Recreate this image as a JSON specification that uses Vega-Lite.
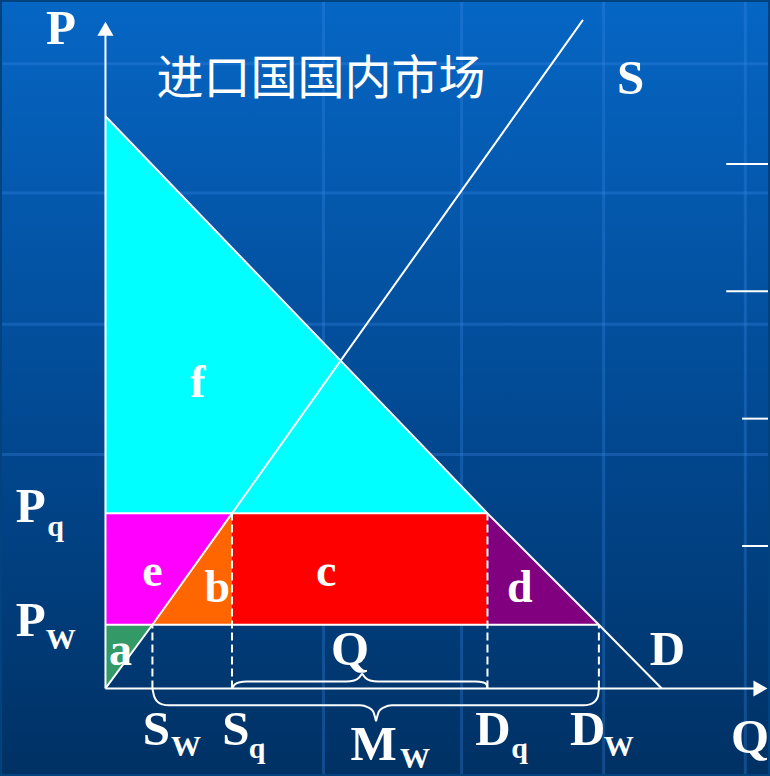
{
  "$schema": "https://vega.github.io/schema/vega-lite/v6.json",
  "autosize": {"type": "fit", "contains": "padding"},
  "width": 770,
  "height": 776,
  "padding": 0,
  "background": "#02427f",
  "config": {"view": {"stroke": null}, "axis": {"disable": true}},
  "datasets": {
    "regions": [
      {"region": "f", "x": 0, "y": 71.9, "y2": 22},
      {"region": "f", "x": 48, "y": 22, "y2": 22},
      {"region": "e", "x": 0, "y": 8, "y2": 22},
      {"region": "e", "x": 5.9, "y": 8, "y2": 22},
      {"region": "e", "x": 15.9, "y": 22, "y2": 22},
      {"region": "b", "x": 5.9, "y": 8, "y2": 8},
      {"region": "b", "x": 15.9, "y": 8, "y2": 22},
      {"region": "c", "x": 15.9, "y": 8, "y2": 22},
      {"region": "c", "x": 48, "y": 8, "y2": 22},
      {"region": "d", "x": 48, "y": 8, "y2": 22},
      {"region": "d", "x": 62, "y": 8, "y2": 8},
      {"region": "a", "x": 0, "y": 0, "y2": 8},
      {"region": "a", "x": 5.9, "y": 8, "y2": 8}
    ],
    "curves": [
      {"id": "S", "x": 0, "y": 0},
      {"id": "S", "x": 5.9, "y": 8},
      {"id": "S", "x": 15.9, "y": 22},
      {"id": "S", "x": 60, "y": 84},
      {"id": "D", "x": 0, "y": 71.9},
      {"id": "D", "x": 48, "y": 22},
      {"id": "D", "x": 62, "y": 8},
      {"id": "D", "x": 69.9, "y": 0}
    ],
    "braces": [
      {"id": "QL", "x": 15.9, "y": 0},
      {"id": "QL", "x": 16.25, "y": 0.5},
      {"id": "QL", "x": 16.75, "y": 0.75},
      {"id": "QL", "x": 17.75, "y": 0.875},
      {"id": "QL", "x": 30.25, "y": 0.875},
      {"id": "QL", "x": 31.25, "y": 1.0},
      {"id": "QL", "x": 31.875, "y": 1.375},
      {"id": "QL", "x": 32.25, "y": 1.875},
      {"id": "QR", "x": 32.25, "y": 1.875},
      {"id": "QR", "x": 32.625, "y": 1.375},
      {"id": "QR", "x": 33.25, "y": 1.0},
      {"id": "QR", "x": 34.25, "y": 0.875},
      {"id": "QR", "x": 46.5, "y": 0.875},
      {"id": "QR", "x": 47.5, "y": 0.75},
      {"id": "QR", "x": 47.875, "y": 0.5},
      {"id": "QR", "x": 48, "y": 0},
      {"id": "ML", "x": 5.9, "y": 0},
      {"id": "ML", "x": 6.125, "y": -1},
      {"id": "ML", "x": 6.5, "y": -1.625},
      {"id": "ML", "x": 7.125, "y": -2},
      {"id": "ML", "x": 8, "y": -2.125},
      {"id": "ML", "x": 32, "y": -2.125},
      {"id": "ML", "x": 33, "y": -2.375},
      {"id": "ML", "x": 33.625, "y": -2.875},
      {"id": "ML", "x": 34, "y": -4.125},
      {"id": "MR", "x": 34, "y": -4.125},
      {"id": "MR", "x": 34.375, "y": -2.875},
      {"id": "MR", "x": 35, "y": -2.375},
      {"id": "MR", "x": 36, "y": -2.125},
      {"id": "MR", "x": 60, "y": -2.125},
      {"id": "MR", "x": 60.875, "y": -2},
      {"id": "MR", "x": 61.5, "y": -1.625},
      {"id": "MR", "x": 61.875, "y": -1},
      {"id": "MR", "x": 62, "y": 0}
    ],
    "segments": [
      {"kind": "grid", "x": -13, "y": 78.5, "x2": 83.25, "y2": 78.5},
      {"kind": "grid", "x": -13, "y": 62.25, "x2": 83.25, "y2": 62.25},
      {"kind": "grid", "x": -13, "y": 45.75, "x2": 83.25, "y2": 45.75},
      {"kind": "grid", "x": -13, "y": 29.4, "x2": 83.25, "y2": 29.4},
      {"kind": "grid", "x": 27.4, "y": -10.75, "x2": 27.4, "y2": 86.25},
      {"kind": "grid", "x": 44.75, "y": -10.75, "x2": 44.75, "y2": 86.25},
      {"kind": "grid", "x": 62.6, "y": -10.75, "x2": 62.6, "y2": 86.25},
      {"kind": "grid", "x": 80.4, "y": -10.75, "x2": 80.4, "y2": 86.25},
      {"kind": "solid", "x": 0, "y": 22, "x2": 48, "y2": 22},
      {"kind": "solid", "x": 0, "y": 8, "x2": 62, "y2": 8},
      {"kind": "solid", "x": 0, "y": 0, "x2": 0, "y2": 82.9},
      {"kind": "solid", "x": 0, "y": 0, "x2": 82.3, "y2": 0},
      {"kind": "solid", "x": 78, "y": 65.9, "x2": 83.25, "y2": 65.9},
      {"kind": "solid", "x": 78, "y": 49.9, "x2": 83.25, "y2": 49.9},
      {"kind": "solid", "x": 80, "y": 33.9, "x2": 83.25, "y2": 33.9},
      {"kind": "solid", "x": 80, "y": 17.9, "x2": 83.25, "y2": 17.9},
      {"kind": "dash", "x": 5.9, "y": 0, "x2": 5.9, "y2": 8},
      {"kind": "dash", "x": 15.9, "y": 0, "x2": 15.9, "y2": 22},
      {"kind": "dash", "x": 48, "y": 0, "x2": 48, "y2": 22},
      {"kind": "dash", "x": 62, "y": 0, "x2": 62, "y2": 8}
    ],
    "arrows": [
      {"shape": "triangle-up", "x": 0, "y": 82.9},
      {"shape": "triangle-right", "x": 82.3, "y": 0}
    ],
    "labels": [
      {"kind": "big", "t": "P", "x": -5.6, "y": 81},
      {"kind": "big", "t": "S", "x": 66, "y": 74.75},
      {"kind": "big", "t": "P", "x": -9.4, "y": 20.9},
      {"kind": "big", "t": "P", "x": -9.4, "y": 6.6},
      {"kind": "big", "t": "Q", "x": 30.75, "y": 3},
      {"kind": "big", "t": "D", "x": 70.6, "y": 2.9},
      {"kind": "big", "t": "S", "x": 6.4, "y": -7.1},
      {"kind": "big", "t": "S", "x": 16.4, "y": -7.1},
      {"kind": "big", "t": "D", "x": 48.7, "y": -7.1},
      {"kind": "big", "t": "D", "x": 60.6, "y": -7.1},
      {"kind": "big", "t": "M", "x": 33.7, "y": -9},
      {"kind": "big", "t": "Q", "x": 81, "y": -8.1},
      {"kind": "sub", "t": "q", "x": -7.3, "y": 19.1},
      {"kind": "sub", "t": "W", "x": -7.5, "y": 5},
      {"kind": "sub", "t": "W", "x": 8.25, "y": -8.5},
      {"kind": "sub", "t": "q", "x": 18, "y": -8.75},
      {"kind": "sub", "t": "q", "x": 51, "y": -8.75},
      {"kind": "sub", "t": "W", "x": 62.6, "y": -8.5},
      {"kind": "sub", "t": "W", "x": 37, "y": -10},
      {"kind": "area", "t": "a", "x": 1.9, "y": 2.9},
      {"kind": "area", "t": "b", "x": 14.06, "y": 10.9},
      {"kind": "area", "t": "c", "x": 27.75, "y": 12.9},
      {"kind": "area", "t": "d", "x": 52.06, "y": 10.9},
      {"kind": "area", "t": "e", "x": 5.9, "y": 12.9},
      {"kind": "area", "t": "f", "x": 11.6, "y": 36.6},
      {"kind": "title", "t": "进口国国内市场", "x": 6.4, "y": 76.4}
    ]
  },
  "encoding": {
    "x": {"field": "x", "type": "quantitative", "scale": {"domain": [-13, 83.25], "nice": false, "zero": false}, "axis": null},
    "y": {"field": "y", "type": "quantitative", "scale": {"domain": [-10.75, 86.25], "nice": false, "zero": false}, "axis": null}
  },
  "layer": [
    {
      "data": {"values": [{"bg": 1}]},
      "mark": {"type": "rect", "fill": {"gradient": "linear", "x1": 0, "y1": 0, "x2": 0, "y2": 1, "stops": [{"offset": 0, "color": "#0666c4"}, {"offset": 0.5, "color": "#024b96"}, {"offset": 1, "color": "#003164"}]}, "opacity": 1},
      "encoding": {
        "x": {"value": 0},
        "x2": {"value": "width"},
        "y": {"value": 0},
        "y2": {"value": "height"}
      }
    },
    {
      "data": {"name": "segments"},
      "transform": [{"filter": "datum.kind == 'grid'"}],
      "mark": {"type": "rule", "color": "#3a8ae8", "strokeWidth": 3, "opacity": 0.3},
      "encoding": {"x2": {"field": "x2"}, "y2": {"field": "y2"}}
    },
    {
      "data": {"name": "regions"},
      "mark": {"type": "area", "interpolate": "linear", "opacity": 1},
      "encoding": {
        "y2": {"field": "y2"},
        "color": {"field": "region", "type": "nominal", "legend": null, "scale": {"domain": ["a", "b", "c", "d", "e", "f"], "range": ["#339966", "#FF6600", "#FF0000", "#800080", "#FF00FF", "#00FFFF"]}}
      }
    },
    {
      "data": {"name": "segments"},
      "transform": [{"filter": "datum.kind == 'dash'"}],
      "mark": {"type": "rule", "color": "white", "strokeWidth": 2, "strokeDash": [8, 4]},
      "encoding": {"x2": {"field": "x2"}, "y2": {"field": "y2"}}
    },
    {
      "data": {"name": "segments"},
      "transform": [{"filter": "datum.kind == 'solid'"}],
      "mark": {"type": "rule", "color": "white", "strokeWidth": 2},
      "encoding": {"x2": {"field": "x2"}, "y2": {"field": "y2"}}
    },
    {
      "data": {"name": "curves"},
      "mark": {"type": "line", "color": "white", "strokeWidth": 2},
      "encoding": {"detail": {"field": "id", "type": "nominal"}}
    },
    {
      "data": {"name": "braces"},
      "mark": {"type": "line", "color": "white", "strokeWidth": 2, "interpolate": "monotone"},
      "encoding": {"detail": {"field": "id", "type": "nominal"}}
    },
    {
      "data": {"name": "arrows"},
      "mark": {"type": "point", "filled": true, "color": "white", "opacity": 1, "size": 260},
      "encoding": {"shape": {"field": "shape", "type": "nominal", "scale": null}}
    },
    {
      "data": {"name": "labels"},
      "transform": [{"filter": "datum.kind == 'big'"}],
      "mark": {"type": "text", "font": "Liberation Serif", "fontWeight": "bold", "fontSize": 49, "color": "white", "align": "center", "baseline": "alphabetic"},
      "encoding": {"text": {"field": "t"}}
    },
    {
      "data": {"name": "labels"},
      "transform": [{"filter": "datum.kind == 'sub'"}],
      "mark": {"type": "text", "font": "Liberation Serif", "fontWeight": "bold", "fontSize": 30, "color": "white", "align": "left", "baseline": "alphabetic"},
      "encoding": {"text": {"field": "t"}}
    },
    {
      "data": {"name": "labels"},
      "transform": [{"filter": "datum.kind == 'area'"}],
      "mark": {"type": "text", "font": "Liberation Serif", "fontWeight": "bold", "fontSize": 46, "color": "white", "align": "center", "baseline": "alphabetic"},
      "encoding": {"text": {"field": "t"}}
    },
    {
      "data": {"name": "labels"},
      "transform": [{"filter": "datum.kind == 'title'"}],
      "mark": {"type": "text", "font": "Noto Sans CJK SC", "fontWeight": "normal", "fontSize": 47, "color": "white", "align": "left", "baseline": "middle"},
      "encoding": {"text": {"field": "t"}}
    }
  ]
}
